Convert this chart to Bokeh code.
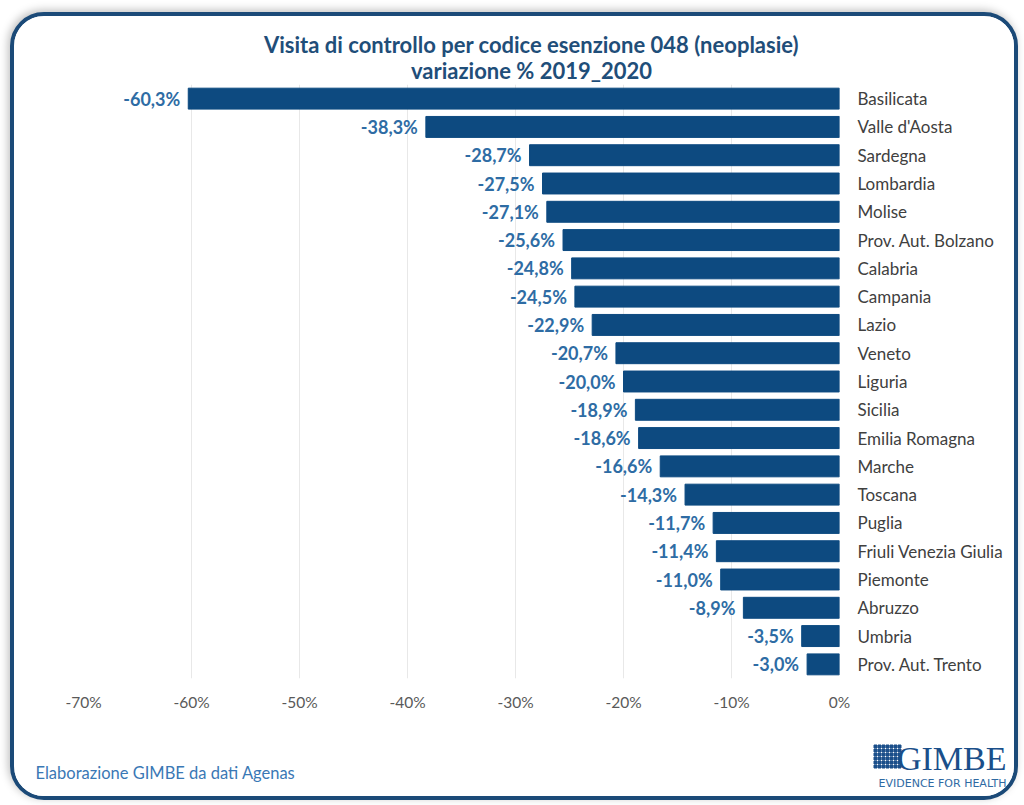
from bokeh.plotting import figure
from bokeh.layouts import column, row
from bokeh.models import (ColumnDataSource, FactorRange, Range1d, FixedTicker,
                          CustomJSTickFormatter, Label)
from bokeh.core.properties import value
from bokeh.embed import file_html
from bokeh.resources import INLINE

regions = ["Basilicata", "Valle d'Aosta", "Sardegna", "Lombardia", "Molise",
           "Prov. Aut. Bolzano", "Calabria", "Campania", "Lazio", "Veneto",
           "Liguria", "Sicilia", "Emilia Romagna", "Marche", "Toscana",
           "Puglia", "Friuli Venezia Giulia", "Piemonte", "Abruzzo", "Umbria",
           "Prov. Aut. Trento"]
variation = [-60.3, -38.3, -28.7, -27.5, -27.1, -25.6, -24.8, -24.5, -22.9,
             -20.7, -20.0, -18.9, -18.6, -16.6, -14.3, -11.7, -11.4, -11.0,
             -8.9, -3.5, -3.0]
x_ticks = [-70, -60, -50, -40, -30, -20, -10, 0]

title_1 = "Visita di controllo per codice esenzione 048 (neoplasie)"
title_2 = "variazione % 2019_2020"
footer = "Elaborazione GIMBE da dati Agenas"

labels = [f"{v:.1f}".replace(".", ",") + "%" for v in variation]
src = ColumnDataSource(dict(region=regions, val=variation, lab=labels))

BAR = "#0d4a80"
FONT = "Lato"
W = 1000


def blank(h):
    f = figure(width=W, height=h, output_backend="svg", toolbar_location=None,
               x_range=Range1d(0, W), y_range=Range1d(h, 0),
               x_axis_type=None, y_axis_type=None, min_border=0)
    f.outline_line_color = None
    f.xgrid.visible = False
    f.ygrid.visible = False
    f.background_fill_color = "white"
    f.border_fill_color = "white"
    return f


# --- title strip ---
top = blank(68)
for txt, yy in [(title_1, 28), (title_2, 54)]:
    top.add_layout(Label(x=517, y=yy, text=txt, text_align="center",
                         text_baseline="middle", text_font=FONT,
                         text_font_style="bold", text_font_size="22px",
                         text_color="#1f4e79"))

# --- main chart ---
p = figure(width=W, height=636, output_backend="svg", toolbar_location=None,
           y_range=FactorRange(factors=regions[::-1]),
           x_range=Range1d(-70, 0), y_axis_location="right",
           min_border_left=69, min_border_top=0, min_border_right=175,
           min_border_bottom=42)
p.outline_line_color = None
p.background_fill_color = "white"
p.border_fill_color = "white"

p.hbar(y="region", left=0, right="val", height=0.74, color=BAR, source=src)
p.text(x="val", y="region", text="lab", source=src, x_offset=-8,
       text_align="right", text_baseline="middle", text_color="#2e6ca4",
       text_font=value(FONT), text_font_style="bold", text_font_size="18px")

p.xgrid.grid_line_color = "#e8e8e8"
p.xgrid.ticker = FixedTicker(ticks=x_ticks)
p.ygrid.grid_line_color = None

xa = p.xaxis[0]
xa.ticker = FixedTicker(ticks=x_ticks)
xa.formatter = CustomJSTickFormatter(code="return tick + '%';")
xa.axis_line_color = None
xa.major_tick_line_color = None
xa.minor_tick_line_color = None
xa.major_tick_out = 0
xa.major_label_standoff = 14
xa.major_label_text_font = FONT
xa.major_label_text_font_size = "15.5px"
xa.major_label_text_color = "#595959"

ya = p.yaxis[0]
ya.axis_line_color = None
ya.major_tick_line_color = None
ya.minor_tick_line_color = None
ya.major_tick_out = 0
ya.major_label_standoff = 18
ya.major_label_text_font = FONT
ya.major_label_text_font_size = "17px"
ya.major_label_text_color = "#404040"

# --- footer strip ---
bot = blank(76)
bot.add_layout(Label(x=21, y=52, text=footer, text_align="left",
                     text_baseline="middle", text_font=FONT,
                     text_font_size="16.5px", text_color="#3a78b5"))
bot.add_layout(Label(x=992, y=38, text="GIMBE", text_align="right",
                     text_baseline="middle", text_font="Liberation Serif",
                     text_font_size="34px", text_color="#1a4f8a"))
bot.add_layout(Label(x=992, y=63, text="EVIDENCE FOR HEALTH", text_align="right",
                     text_baseline="middle", text_font="DejaVu Sans",
                     text_font_size="11px", text_color="#2f6aa3"))
# logo icon: small grid of squares
gx = [861 + 4 * i for i in range(7) for j in range(6)]
gy = [26 + 4 * j for i in range(7) for j in range(6)]
bot.rect(x=gx, y=gy, width=3, height=3, color="#1a4f8a")

layout = column(row(top), row(p), row(bot), spacing=0,
                styles={"border": "4px solid #1b4a78", "border-radius": "34px",
                        "overflow": "hidden", "background-color": "white",
                        "margin-left": "10px", "margin-top": "12px",
                        "box-shadow": "-2px -2px 8px rgba(0,0,0,0.25)"})

open("out.html", "w").write(file_html(layout, INLINE))
